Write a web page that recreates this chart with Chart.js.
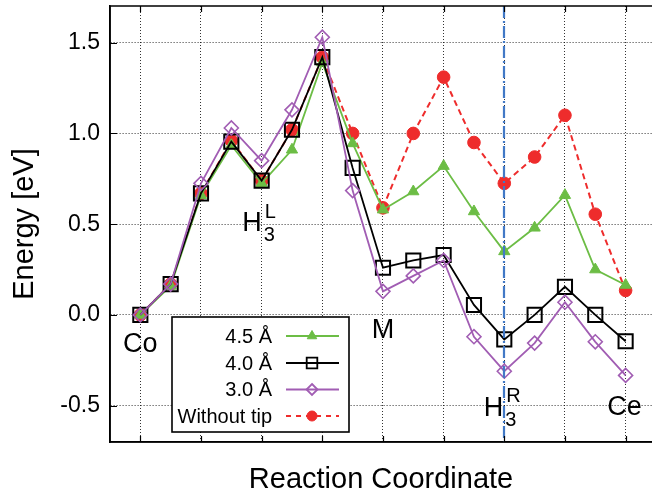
<!DOCTYPE html>
<html>
<head>
<meta charset="utf-8">
<script src="https://cdn.jsdelivr.net/npm/chart.js@4/dist/chart.umd.min.js"></script>
<style>html,body{margin:0;padding:0;background:#fff}canvas{display:block}</style>
</head>
<body>
<canvas id="c" width="652" height="493"></canvas>
<script>
// ---- data ----
const steps = [0, 1, 2, 3, 4, 5, 6, 7, 8, 9, 10, 11, 12, 13, 14, 15, 16];
const seriesNames = ['4.5 Å', '4.0 Å', '3.0 Å', 'Without tip'];
const tip45 = [0, 0.16, 0.66, 0.935, 0.725, 0.91, 1.39, 0.945, 0.58, 0.68, 0.82, 0.57, 0.35, 0.48, 0.66, 0.25, 0.165];
const tip40 = [0, 0.17, 0.67, 0.955, 0.74, 1.02, 1.42, 0.81, 0.26, 0.30, 0.33, 0.055, -0.135, 0.0, 0.155, 0.0, -0.145];
const tip30 = [0, 0.17, 0.725, 1.03, 0.85, 1.13, 1.53, 0.685, 0.13, 0.215, 0.30, -0.12, -0.31, -0.155, 0.07, -0.148, -0.333];
const noTip = [0, 0.17, 0.67, 0.96, 0.74, 1.02, 1.42, 1.00, 0.59, 1.00, 1.31, 0.95, 0.725, 0.87, 1.10, 0.555, 0.135];
const yTicks = [-0.5, 0.0, 0.5, 1.0, 1.5];
const xGridSteps = [0, 2, 4, 6, 8, 10, 12, 14, 16];
const siteSteps = [0, 4, 8, 12, 16];
const siteNames = ['Co', 'H', 'M', 'H', 'Ce'];
const siteSubs = ['', '3', '', '3', ''];
const siteSups = ['', 'L', '', 'R', ''];
const markedStep = 12;

// ---- styles ----
const FONT = '"Liberation Sans", Arial, Helvetica, sans-serif';
const GREEN = '#6cbd45', BLACK = '#000000', PURPLE = '#a15db3', RED = '#ee2c2c', BLUE = '#4279c6';
// label placement: alignment, dx in px, baseline value on y axis
const sitePlace = [
  {align: 'center', dx: 0, yv: -0.204},
  {align: 'right', dx: 0, yv: 0.46},
  {align: 'center', dx: 0, yv: -0.127},
  {align: 'right', dx: -1, yv: -0.556},
  {align: 'center', dx: -1, yv: -0.55}
];

const pts = arr => arr.map((v, i) => ({x: steps[i], y: v}));

const datasets = [
  {label: seriesNames[0], data: pts(tip45), borderColor: GREEN, backgroundColor: GREEN,
   pointStyle: 'triangle', pointRadius: 6.5, pointBorderWidth: 1, borderWidth: 1.8, order: 2},
  {label: seriesNames[1], data: pts(tip40), borderColor: BLACK, backgroundColor: 'rgba(0,0,0,0)',
   pointBackgroundColor: 'rgba(0,0,0,0)', pointStyle: 'rect', pointRadius: 10, pointBorderWidth: 2, borderWidth: 1.8, order: 1},
  {label: seriesNames[2], data: pts(tip30), borderColor: PURPLE, backgroundColor: 'rgba(0,0,0,0)',
   pointBackgroundColor: 'rgba(0,0,0,0)', pointStyle: 'rectRot', pointRadius: 7, pointBorderWidth: 1.6, borderWidth: 1.8, order: 0},
  {label: seriesNames[3], data: pts(noTip), borderColor: RED, backgroundColor: RED,
   pointStyle: 'circle', pointRadius: 6.3, pointBorderWidth: 1, borderWidth: 2, borderDash: [6, 4], order: 3}
];

function marker(ctx, style, x, y, r, color, fill) {
  ctx.save();
  ctx.beginPath();
  if (style === 'triangle') {
    ctx.moveTo(x, y - r);
    ctx.lineTo(x + r * 0.866, y + r * 0.5);
    ctx.lineTo(x - r * 0.866, y + r * 0.5);
    ctx.closePath();
  } else if (style === 'rect') {
    const s = r * Math.SQRT1_2;
    ctx.rect(x - s, y - s, 2 * s, 2 * s);
  } else if (style === 'rectRot') {
    ctx.moveTo(x, y - r); ctx.lineTo(x + r, y); ctx.lineTo(x, y + r); ctx.lineTo(x - r, y); ctx.closePath();
  } else {
    ctx.arc(x, y, r, 0, Math.PI * 2);
  }
  ctx.setLineDash([]);
  if (fill) { ctx.fillStyle = color; ctx.fill(); }
  ctx.strokeStyle = color;
  ctx.lineWidth = fill ? 1 : 1.8;
  ctx.stroke();
  ctx.restore();
}

const decor = {
  id: 'decor',
  afterDatasetsDraw(chart) {
    const {ctx, chartArea: a, scales: {x, y}} = chart;
    // vertical dash-dot marker line
    ctx.save();
    ctx.strokeStyle = BLUE;
    ctx.lineWidth = 2.2;
    ctx.setLineDash([12, 3, 2, 3]);
    const bx = Math.round(x.getPixelForValue(markedStep));
    ctx.beginPath(); ctx.moveTo(bx, a.top); ctx.lineTo(bx, a.bottom); ctx.stroke();
    ctx.restore();

    // site labels
    ctx.save();
    ctx.fillStyle = '#000';
    ctx.textBaseline = 'alphabetic';
    siteSteps.forEach((s, i) => {
      const p = sitePlace[i];
      const px = x.getPixelForValue(s) + p.dx;
      const py = y.getPixelForValue(p.yv);
      ctx.font = '27px ' + FONT;
      ctx.textAlign = p.align;
      ctx.fillText(siteNames[i], px, py);
      if (siteSubs[i] || siteSups[i]) {
        ctx.font = '20px ' + FONT;
        ctx.textAlign = 'left';
        if (siteSubs[i]) ctx.fillText(siteSubs[i], px + 2, py + 10);
        if (siteSups[i]) ctx.fillText(siteSups[i], px + 3, py - 13.5);
      }
    });
    ctx.restore();
  },
  afterDraw(chart) {
    const {ctx, chartArea: a, scales: {x, y}} = chart;
    ctx.save();
    // inner tick marks
    ctx.strokeStyle = '#000';
    ctx.lineWidth = 1.2;
    ctx.setLineDash([]);
    ctx.beginPath();
    xGridSteps.forEach(s => {
      const px = Math.round(x.getPixelForValue(s)) + 0.5;
      ctx.moveTo(px, a.bottom); ctx.lineTo(px, a.bottom - 6);
      ctx.moveTo(px, a.top); ctx.lineTo(px, a.top + 6);
    });
    yTicks.forEach(v => {
      const py = Math.round(y.getPixelForValue(v)) + 0.5;
      ctx.moveTo(a.left, py); ctx.lineTo(a.left + 7, py);
    });
    ctx.stroke();
    // frame (left, top, bottom)
    ctx.lineWidth = 1.6;
    ctx.beginPath();
    ctx.moveTo(a.right, a.top); ctx.lineTo(a.left, a.top); ctx.lineTo(a.left, a.bottom); ctx.lineTo(a.right, a.bottom);
    ctx.stroke();

    // legend
    const L = {left: 172, top: 317, right: 349, bottom: 432};
    ctx.fillStyle = '#fff';
    ctx.fillRect(L.left, L.top, L.right - L.left, L.bottom - L.top);
    ctx.strokeStyle = '#000';
    ctx.lineWidth = 1.6;
    ctx.strokeRect(L.left, L.top, L.right - L.left, L.bottom - L.top);
    const rowY = [336, 363, 389.5, 416];
    const legendR = [5.5, 7.5, 5.5, 5];
    chart.data.datasets.forEach((ds, k) => {
      const ry = rowY[k];
      ctx.font = '20px ' + FONT;
      ctx.fillStyle = '#000';
      ctx.textAlign = 'right';
      ctx.textBaseline = 'middle';
      ctx.fillText(ds.label, 272, ry + 1);
      ctx.strokeStyle = ds.borderColor;
      ctx.lineWidth = 1.8;
      ctx.setLineDash(ds.borderDash ? [5, 5] : []);
      ctx.beginPath(); ctx.moveTo(286, ry); ctx.lineTo(339, ry); ctx.stroke();
      const filled = ds.pointStyle === 'triangle' || ds.pointStyle === 'circle';
      marker(ctx, ds.pointStyle, 312, ry, legendR[k], ds.borderColor, filled);
    });
    ctx.restore();
  }
};

Chart.defaults.font.family = FONT;
Chart.defaults.color = '#000';

const zeroPad = s => { s.paddingTop = 0; s.paddingBottom = 0; s.paddingLeft = 0; s.paddingRight = 0; };

new Chart(document.getElementById('c'), {
  type: 'line',
  data: {datasets},
  options: {
    responsive: false,
    animation: false,
    devicePixelRatio: 1,
    layout: {autoPadding: false, padding: {top: 6, right: 0, left: 0, bottom: 0}},
    plugins: {legend: {display: false}, tooltip: {enabled: false}},
    elements: {line: {tension: 0}},
    scales: {
      x: {
        type: 'linear', min: -1, max: 16.87,
        afterBuildTicks: s => { s.ticks = xGridSteps.map(v => ({value: v})); },
        afterFit: s => { s.height = 51; zeroPad(s); },
        ticks: {display: false},
        grid: {color: 'rgba(0,0,0,0.8)', lineWidth: 1, drawTicks: false},
        border: {display: true, color: '#000', width: 1.6, dash: [1, 2]},
        title: {display: true, text: 'Reaction Coordinate', font: {size: 29, family: FONT}, color: '#000', padding: {top: 0, bottom: -4}}
      },
      y: {
        type: 'linear', min: -0.7, max: 1.702,
        afterBuildTicks: s => { s.ticks = yTicks.map(v => ({value: v})); },
        afterFit: s => { s.width = 110; zeroPad(s); },
        ticks: {font: {size: 23, family: FONT}, color: '#000', padding: 10, callback: v => v.toFixed(1)},
        grid: {color: 'rgba(0,0,0,0.8)', lineWidth: 1, drawTicks: false},
        border: {display: true, color: '#000', width: 1.6, dash: [1, 2]},
        title: {display: true, text: 'Energy [eV]', font: {size: 29, family: FONT}, color: '#000', padding: {top: 8, bottom: 0}}
      }
    }
  },
  plugins: [decor]
});
</script>
</body>
</html>
